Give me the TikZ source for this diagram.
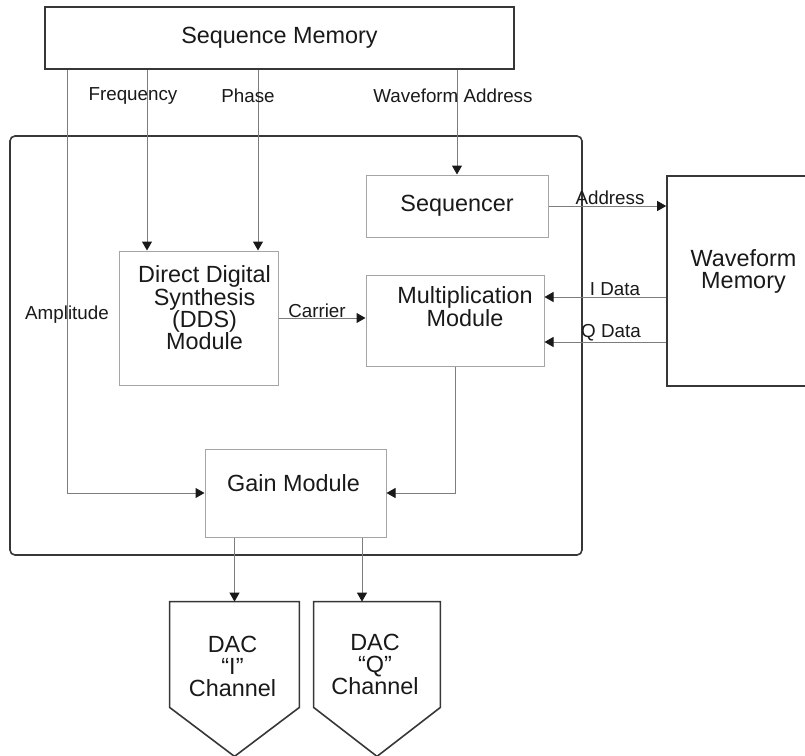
\documentclass[tikz,border=0pt]{standalone}
\usepackage{fontspec}
\setmainfont{Liberation Sans}
\definecolor{LineGray}{RGB}{125, 125, 125}
\definecolor{BoxGray}{RGB}{165, 165, 165}
\definecolor{EdgeDark}{RGB}{55, 55, 55}
\definecolor{InkBlack}{RGB}{25, 25, 25}
\usetikzlibrary{arrows.meta, positioning}

\begin{document}
\begin{tikzpicture}[x=0.5pt, y=-0.5pt, >={Triangle[length=4.5pt, width=5pt, color=InkBlack]},
    every node/.style={text=InkBlack},
    blk/.style={draw=BoxGray, line width=0.5pt, inner sep=0pt, font=\fontsize{11.7}{11.2}\selectfont},
    outer/.style={draw=EdgeDark, line width=0.8pt, inner sep=0pt, font=\fontsize{11.7}{11.2}\selectfont},
    blktext/.style={font=\fontsize{11.7}{11.2}\selectfont, align=center, inner sep=0pt},
    sig/.style={font=\fontsize{9.4}{11}\selectfont, inner sep=0pt},
    wire/.style={draw=LineGray, line width=0.5pt}]
    \useasboundingbox (0,0) rectangle (805,756);
    % blocks
    \node[outer, rounded corners=2.5pt, minimum width=286pt, minimum height=209.5pt] (core) at (296,345.5) {};
    \node[outer, minimum width=234.5pt, minimum height=31pt] (seqmem) at (279.5,38) {Sequence Memory};
    \node[blk, minimum width=91pt, minimum height=31pt] (seq) at (457,206) {Sequencer};
    \node[blk, minimum width=79.5pt, minimum height=67pt] (dds) at (198.5,318) {};
    \node[blk, minimum width=89pt, minimum height=45.5pt] (mult) at (455,320.5) {};
    \node[outer, minimum width=76.5pt, minimum height=105pt] (wm) at (743.5,281) {};
    \node[blk, minimum width=90.5pt, minimum height=44pt] (gain) at (295.5,493) {};
    \node[minimum width=64.5pt, minimum height=52.5pt, inner sep=0pt] (daci) at (234.5,654.5) {};
    \node[minimum width=63pt, minimum height=52.5pt, inner sep=0pt] (dacq) at (377,654.5) {};
    \draw[EdgeDark, line width=0.8pt] (daci.north west) -- (daci.north east) -- (daci.south east) -- ([yshift=-24.5pt]daci.south) -- (daci.south west) -- cycle;
    \draw[EdgeDark, line width=0.8pt] (dacq.north west) -- (dacq.north east) -- (dacq.south east) -- ([yshift=-24.5pt]dacq.south) -- (dacq.south west) -- cycle;
    % block texts
    \node[blktext, xshift=3pt, yshift=5pt] (ddstext) at (dds) {Direct Digital\\Synthesis\\(DDS)\\Module};
    \node[blktext, xshift=5pt, yshift=7pt] (multtext) at (mult) {Multiplication\\Module};
    \node[blktext, yshift=4.75pt] (wmtext) at (wm) {Waveform\\Memory};
    \node[blktext, xshift=-1pt, yshift=5pt] (gaintext) at (gain) {Gain Module};
    \node[blktext, xshift=-1pt, yshift=-6pt] (dacitext) at (daci) {DAC\\“I”\\Channel};
    \node[blktext, xshift=-1pt, yshift=-5pt] (dacqtext) at (dacq) {DAC\\“Q”\\Channel};
    % tap points
    \coordinate (xamp) at (67,0);
    \coordinate (xfreq) at (147,0);
    \coordinate (xphase) at (258,0);
    \coordinate (xqch) at (362,0);
    \coordinate (yidata) at (0,297);
    \coordinate (yqdata) at (0,342);
    % connectors
    \draw[wire, ->] (xamp |- seqmem.south) |- (gain.west);
    \draw[wire, ->] (xfreq |- seqmem.south) -- (xfreq |- dds.north);
    \draw[wire, ->] (xphase |- seqmem.south) -- (xphase |- dds.north);
    \draw[wire, ->] (seq.north |- seqmem.south) -- (seq.north);
    \draw[wire, ->] (seq.east) -- (seq.east -| wm.west);
    \draw[wire, ->] (dds.east) -- (dds.east -| mult.west);
    \draw[wire, ->] (yidata -| wm.west) -- (yidata -| mult.east);
    \draw[wire, ->] (yqdata -| wm.west) -- (yqdata -| mult.east);
    \draw[wire, ->] (mult.south) |- (gain.east);
    \draw[wire, ->] (daci.north |- gain.south) -- (daci.north);
    \draw[wire, ->] (xqch |- gain.south) -- (xqch |- dacq.north);
    % signal names
    \node[sig] (freqlbl) at (133,96) {Frequency};
    \node[sig] (phaselbl) at (248,96) {Phase};
    \node[sig] (wavelbl) at (453,96) {Waveform Address};
    \node[sig] (amplbl) at (67,315) {Amplitude};
    \node[sig] (carrlbl) at (317,311) {Carrier};
    \node[sig] (addrlbl) at (610,198) {Address};
    \node[sig] (ilbl) at (615,289) {I Data};
    \node[sig] (qlbl) at (611,333) {Q Data};
\end{tikzpicture}
\end{document}
